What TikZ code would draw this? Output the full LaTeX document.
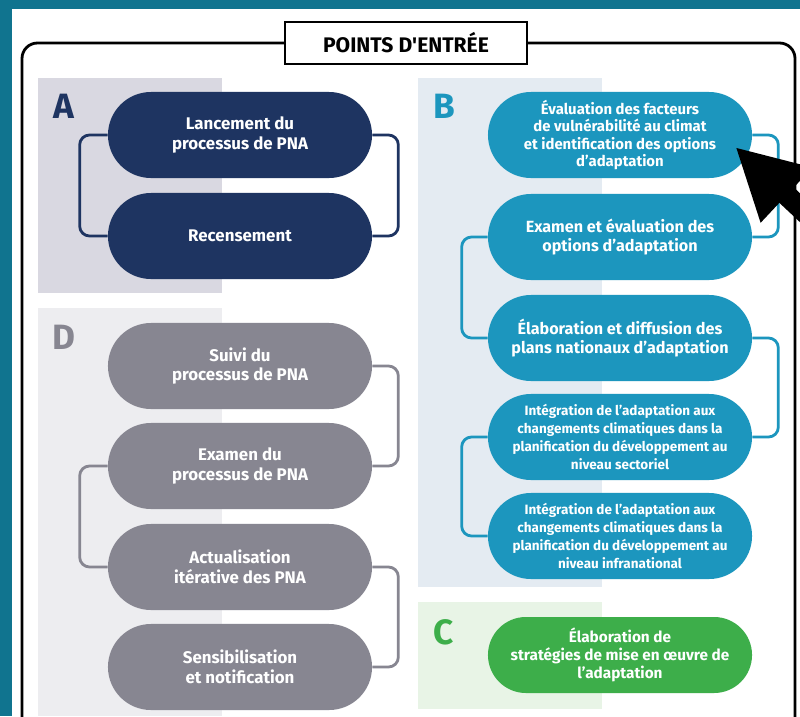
\documentclass[tikz,border=0pt]{standalone}
\usepackage{fontspec}
\setmainfont{Fira Sans}
\usetikzlibrary{shapes.misc,arrows.meta}
\definecolor{pnateal}{HTML}{10748F}
\definecolor{pnanavy}{HTML}{1E3461}
\definecolor{pnablue}{HTML}{1C96BE}
\definecolor{pnagray}{HTML}{878691}
\definecolor{pnagreen}{HTML}{3DAE4A}
\definecolor{bgA}{HTML}{D9D8E1}
\definecolor{bgB}{HTML}{E4EBF2}
\definecolor{bgC}{HTML}{E8F4E6}
\definecolor{bgD}{HTML}{EDEDF0}
\begin{document}
\begin{tikzpicture}[x=0.025cm,y=-0.025cm,
    pill/.style={rounded rectangle,minimum width=6.6cm,minimum height=2.15cm,inner sep=0pt,align=center,text=white,font=\fontsize{12}{14}\selectfont\bfseries},
    smalltext/.style={font=\fontsize{9.6}{12.6}\selectfont\bfseries},
    link/.style={line width=2pt,rounded corners=7pt},
    letter/.style={font=\fontsize{25}{25}\selectfont\bfseries}]
    \useasboundingbox (0,0) rectangle (800,716);
    \clip (0,0) rectangle (800,716);
    \fill[pnateal] (0,0) rectangle (800,716);
    \fill[white] (12,9) rectangle (800,716);
    \draw[line width=2pt,rounded corners=11pt] (22,43) rectangle (795,760);
    \node[draw,fill=white,line width=2pt,minimum width=6.05cm,minimum height=1.05cm,font=\fontsize{15}{15}\selectfont\bfseries] (title) at (406,43) {POINTS D\textquotesingle ENTRÉE};
    \fill[bgA] (38,78) rectangle (222,293);
    \fill[bgD] (38,308) rectangle (222,716);
    \fill[bgB] (418,78) rectangle (602,587);
    \fill[bgC] (418,602) rectangle (602,709);
    \node[letter,pnanavy] (lA) at (64,106) {A};
    \node[letter,pnablue] (lB) at (444,106) {B};
    \node[letter,pnagreen] (lC) at (444,632) {C};
    \node[letter,pnagray] (lD) at (64,337) {D};
    \node[pill,fill=pnanavy] (A1) at (240,135) {Lancement du\\processus de PNA};
    \node[pill,fill=pnanavy] (A2) at (240,236) {Recensement};
    \node[pill,fill=pnagray] (D1) at (240,366) {Suivi du\\processus de PNA};
    \node[pill,fill=pnagray] (D2) at (240,466) {Examen du\\processus de PNA};
    \node[pill,fill=pnagray] (D3) at (240,567) {Actualisation\\itérative des PNA};
    \node[pill,fill=pnagray] (D4) at (240,667) {Sensibilisation\\et notification};
    \node[pill,fill=pnablue,font=\fontsize{10.6}{12.5}\selectfont\bfseries] (B1) at (620,135) {Évaluation des facteurs\\de vulnérabilité au climat\\et identification des options\\d’adaptation};
    \node[pill,fill=pnablue,font=\fontsize{11.5}{13.5}\selectfont\bfseries] (B2) at (620,237) {Examen et évaluation des\\options d’adaptation};
    \node[pill,fill=pnablue,font=\fontsize{11.5}{13.5}\selectfont\bfseries] (B3) at (620,338) {Élaboration et diffusion des\\plans nationaux d’adaptation};
    \node[pill,fill=pnablue,smalltext] (B4) at (620,437) {Intégration de l’adaptation aux\\changements climatiques dans la\\planification du développement au\\niveau sectoriel};
    \node[pill,fill=pnablue,smalltext] (B5) at (620,536) {Intégration de l’adaptation aux\\changements climatiques dans la\\planification du développement au\\niveau infranational};
    \node[pill,fill=pnagreen,minimum height=1.9cm,font=\fontsize{10.9}{13}\selectfont\bfseries] (C1) at (620,655) {Élaboration de\\stratégies de mise en œuvre de\\l’adaptation};
    \draw[link,pnanavy] (A1.west) -- ++(-28,0) |- (A2.west);
    \draw[link,pnanavy] (A1.east) -- ++(26,0) |- (A2.east);
    \draw[link,pnagray] (D1.east) -- ++(26,0) |- (D2.east);
    \draw[link,pnagray] (D2.west) -- ++(-28,0) |- (D3.west);
    \draw[link,pnagray] (D3.east) -- ++(26,0) |- (D4.east);
    \draw[link,pnablue] (B1.east) -- ++(26,0) |- (B2.east);
    \draw[link,pnablue] (B2.west) -- ++(-26,0) |- (B3.west);
    \draw[link,pnablue] (B3.east) -- ++(26,0) |- (B4.east);
    \draw[link,pnablue] (B4.west) -- ++(-26,0) |- (B5.west);
    \coordinate (tip) at ([shift={(-17,12)}]B1.east);
    \coordinate (cursor) at (845,250);
    \draw[line width=15pt,-{Triangle[length=50pt,width=50pt]}] (cursor) -- (tip);
\end{tikzpicture}
\end{document}
